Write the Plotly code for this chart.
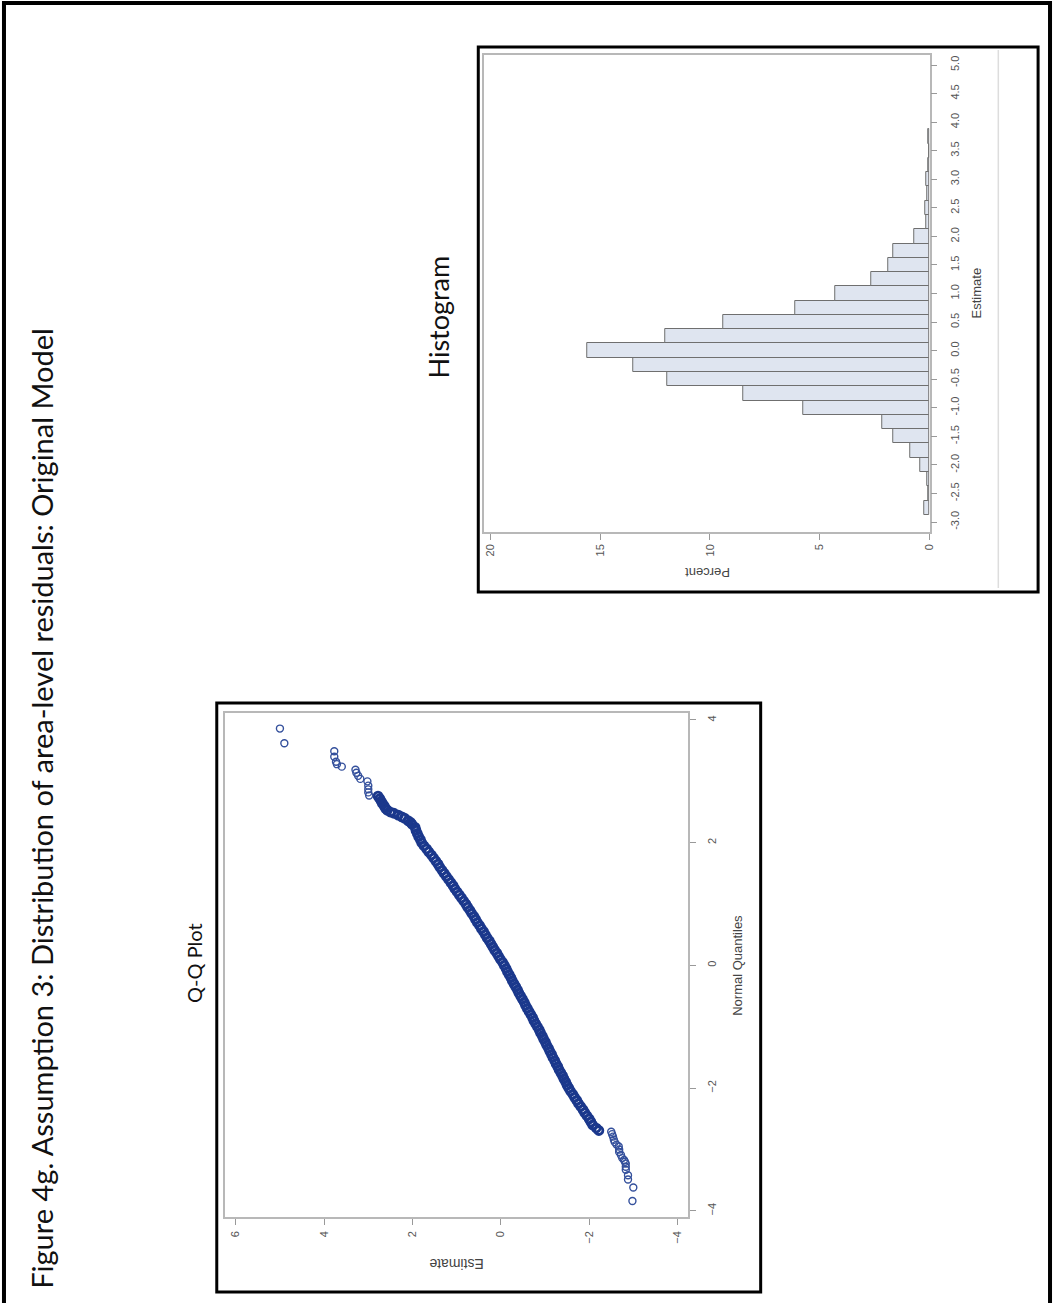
import plotly.graph_objects as go

W, H = 1060, 1303

# ---------------- Histogram data (Estimate bins of width 0.25, Percent) ----------------
hist_bin_centers = [-2.75, -2.5, -2.25, -2.0, -1.75, -1.5, -1.25, -1.0, -0.75, -0.5, -0.25,
                    0.0, 0.25, 0.5, 0.75, 1.0, 1.25, 1.5, 1.75, 2.0, 2.25, 2.5, 2.75,
                    3.0, 3.25, 3.5, 3.75]
hist_percent = [0.25, 0.07, 0.10, 0.42, 0.88, 1.68, 2.15, 5.75, 8.50, 11.95, 13.50,
                15.60, 12.05, 9.40, 6.10, 4.30, 2.65, 1.88, 1.68, 0.70, 0.15, 0.22, 0.10,
                0.18, 0.08, 0.0, 0.07]
hist_est_ticks = [-3.0, -2.5, -2.0, -1.5, -1.0, -0.5, 0.0, 0.5, 1.0, 1.5, 2.0, 2.5, 3.0, 3.5, 4.0, 4.5, 5.0]
hist_est_ticklabels = ["-3.0", "-2.5", "-2.0", "-1.5", "-1.0", "-0.5", "0.0", "0.5", "1.0", "1.5",
                       "2.0", "2.5", "3.0", "3.5", "4.0", "4.5", "5.0"]
hist_pct_ticks = [0, 5, 10, 15, 20]

# ---------------- Q-Q plot data (Normal quantile, Estimate) ----------------
# dense central band of points
qq_band_quantile = [
    -2.69, -2.65, -2.60, -2.55, -2.50, -2.45, -2.40, -2.35, -2.30, -2.25, -2.20, -2.15, -2.10,
    -2.05, -2.00, -1.95, -1.90, -1.85, -1.80, -1.75, -1.70, -1.65, -1.60, -1.55, -1.50, -1.45,
    -1.40, -1.35, -1.30, -1.25, -1.20, -1.15, -1.10, -1.05, -1.00, -0.95, -0.90, -0.85, -0.80,
    -0.75, -0.70, -0.65, -0.60, -0.55, -0.50, -0.45, -0.40, -0.35, -0.30, -0.25, -0.20, -0.15,
    -0.10, -0.05, 0.00, 0.05, 0.10, 0.15, 0.20, 0.25, 0.30, 0.35, 0.40, 0.45, 0.50, 0.55, 0.60,
    0.65, 0.70, 0.75, 0.80, 0.85, 0.90, 0.95, 1.00, 1.05, 1.10, 1.15, 1.20, 1.25, 1.30, 1.35,
    1.40, 1.45, 1.50, 1.55, 1.60, 1.65, 1.70, 1.75, 1.80, 1.85, 1.90, 1.95, 2.00, 2.05, 2.10,
    2.15, 2.20, 2.25, 2.30, 2.33, 2.36, 2.40, 2.42, 2.45, 2.48, 2.50, 2.53, 2.56, 2.60, 2.64,
    2.68, 2.72, 2.76,
]
qq_band_estimate = [
    -2.22, -2.16, -2.08, -2.04, -2.00, -1.95, -1.90, -1.86, -1.81, -1.76, -1.72, -1.67, -1.63,
    -1.58, -1.54, -1.50, -1.47, -1.43, -1.40, -1.36, -1.32, -1.29, -1.25, -1.22, -1.18, -1.15,
    -1.11, -1.08, -1.04, -1.01, -0.97, -0.94, -0.90, -0.87, -0.83, -0.79, -0.75, -0.72, -0.68,
    -0.64, -0.60, -0.56, -0.53, -0.49, -0.45, -0.41, -0.38, -0.34, -0.30, -0.26, -0.23, -0.19,
    -0.15, -0.12, -0.08, -0.04, 0.01, 0.05, 0.09, 0.14, 0.18, 0.22, 0.26, 0.31, 0.35, 0.39, 0.44,
    0.48, 0.53, 0.57, 0.61, 0.66, 0.70, 0.75, 0.79, 0.84, 0.89, 0.94, 0.99, 1.04, 1.08, 1.13,
    1.18, 1.23, 1.28, 1.33, 1.38, 1.42, 1.47, 1.52, 1.57, 1.63, 1.68, 1.74, 1.79, 1.82, 1.86,
    1.89, 1.92, 1.94, 2.01, 2.04, 2.10, 2.18, 2.24, 2.32, 2.42, 2.50, 2.57, 2.61, 2.64, 2.68,
    2.71, 2.74, 2.78,
]
# sparse tails
qq_tail_quantile = [
    -3.84, -3.62, -3.49, -3.42, -3.33, -3.28, -3.23, -3.20, -3.17, -3.14, -3.09, -3.04, -3.00,
    -2.95, -2.92, -2.88, -2.84, -2.79, -2.75, -2.71,
    2.77, 2.82, 2.87, 2.93, 3.00, 3.04, 3.09, 3.14, 3.19, 3.24, 3.28, 3.32, 3.40, 3.49, 3.62, 3.86,
]
qq_tail_estimate = [
    -2.98, -3.00, -2.88, -2.88, -2.83, -2.83, -2.83, -2.81, -2.79, -2.75, -2.72, -2.68, -2.68,
    -2.67, -2.62, -2.58, -2.56, -2.54, -2.52, -2.50,
    2.98, 3.00, 3.00, 3.00, 3.02, 3.18, 3.23, 3.27, 3.29, 3.60, 3.71, 3.73, 3.77, 3.77, 4.90, 5.00,
]
qq_est_ticks = [6, 4, 2, 0, -2, -4]
qq_q_ticks = [-4, -2, 0, 2, 4]

# ---------------- helpers (pixel -> paper) ----------------
def px(x):
    return x / W


def py(y):
    return 1 - y / H


AXFONT = "Liberation Sans, Arial, sans-serif"
TICKFONT = dict(family=AXFONT, size=11, color="#555555")
AXLINE = "#b8b8b8"

fig = go.Figure()

fig.add_trace(go.Bar(
    orientation="h", y=hist_bin_centers, x=hist_percent, width=0.25,
    marker=dict(color="#dfe5f0", line=dict(color="#6f6f6f", width=1)),
    xaxis="x", yaxis="y", hoverinfo="skip",
))

fig.add_trace(go.Scatter(
    x=qq_band_estimate, y=qq_band_quantile, mode="markers",
    marker=dict(symbol="circle-open", size=8, color="#1b388c", line=dict(width=2.8)),
    xaxis="x2", yaxis="y2", hoverinfo="skip",
))
fig.add_trace(go.Scatter(
    x=qq_tail_estimate, y=qq_tail_quantile, mode="markers",
    marker=dict(symbol="circle-open", size=7, color="#34509c", line=dict(width=1.4)),
    xaxis="x2", yaxis="y2", hoverinfo="skip",
))

common = dict(showgrid=False, zeroline=False, showline=True, linecolor=AXLINE, linewidth=1.5,
              mirror=True, ticks="outside", ticklen=6, tickcolor="#999999", tickwidth=1,
              tickangle=-90, tickfont=TICKFONT)

fig.update_layout(
    width=W, height=H,
    margin=dict(l=0, r=0, t=0, b=0),
    paper_bgcolor="white", plot_bgcolor="white",
    showlegend=False,
    bargap=0,
    xaxis=dict(domain=[px(487), px(935)], range=[20.27, 0], tickvals=hist_pct_ticks,
               anchor="y", **common),
    yaxis=dict(domain=[py(532), py(55)], range=[-3.175, 5.175], tickvals=hist_est_ticks,
               ticktext=hist_est_ticklabels, side="right", anchor="x", ticklabelstandoff=8,
               **common),
    xaxis2=dict(domain=[px(226), px(692)], range=[6.25, -4.24], tickvals=qq_est_ticks,
                anchor="y2", ticklabelstandoff=2, **common),
    yaxis2=dict(domain=[py(1217), py(713)], range=[-4.1, 4.114], tickvals=qq_q_ticks,
                side="right", anchor="x2", ticklabelstandoff=7, **common),
)

shapes = [
    # page border
    dict(type="rect", xref="paper", yref="paper", x0=px(4), x1=px(1056), y0=py(1320), y1=py(3),
         line=dict(color="black", width=4)),
    # histogram frame
    dict(type="rect", xref="paper", yref="paper", x0=px(481), x1=px(1044), y0=py(592), y1=py(47),
         line=dict(color="black", width=3)),
    # light separator inside histogram frame
    dict(type="line", xref="paper", yref="paper", x0=px(1004), x1=px(1004), y0=py(588), y1=py(50),
         line=dict(color="#dddddd", width=1.5)),
    # Q-Q frame
    dict(type="rect", xref="paper", yref="paper", x0=px(218), x1=px(765), y0=py(1292), y1=py(703),
         line=dict(color="black", width=3)),
]
fig.update_layout(shapes=shapes)

TITLEFONT = "Lato, Open Sans, sans-serif"
ann = [
    dict(text="Figure 4g. Assumption 3: Distribution of area-level residuals: Original Model",
         x=px(42), y=py(808), textangle=-90, font=dict(family=TITLEFONT, size=29, color="#111111")),
    dict(text="Histogram", x=px(440), y=py(317), textangle=-90,
         font=dict(family=TITLEFONT, size=27, color="#111111")),
    dict(text="Q-Q Plot", x=px(195), y=py(963), textangle=-90,
         font=dict(family=TITLEFONT, size=20, color="#111111")),
    dict(text="Estimate", x=px(982), y=py(293), textangle=-90,
         font=dict(family=AXFONT, size=13, color="#444444")),
    dict(text="Percent", x=px(711), y=py(572), textangle=180,
         font=dict(family=AXFONT, size=13, color="#444444")),
    dict(text="Normal Quantiles", x=px(741), y=py(965), textangle=-90,
         font=dict(family=AXFONT, size=13, color="#444444")),
    dict(text="Estimate", x=px(459), y=py(1264), textangle=180,
         font=dict(family=AXFONT, size=14, color="#444444")),
]
for a in ann:
    a.update(xref="paper", yref="paper", showarrow=False, xanchor="center", yanchor="middle")
fig.update_layout(annotations=ann)

fig.write_html("out.html", config={"displayModeBar": False},
               post_script="document.body.style.margin='0';")
